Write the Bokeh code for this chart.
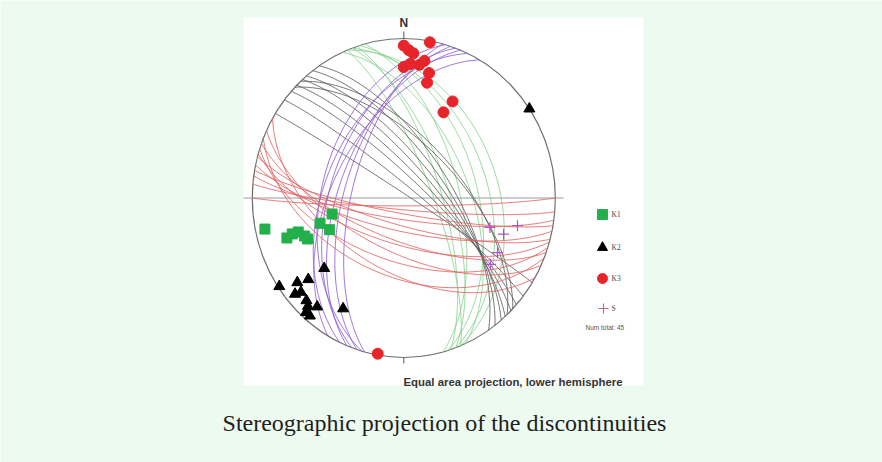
import numpy as np
from bokeh.plotting import figure
from bokeh.models import Range1d, Label
from bokeh.embed import file_html
from bokeh.resources import INLINE

# ---------------- data ----------------
# great circles: dip direction / dip (degrees)
red_dd = [180, 185, 190, 188, 195, 192, 200, 196, 205, 198, 210, 202]
red_dip = [86, 84, 82, 79, 76, 73, 68, 66, 62, 57, 52, 49]
black_dd = [32, 38, 42, 45, 48, 50, 53, 56, 44, 47]
black_dip = [88, 84, 80, 77, 74, 71, 68, 65, 62, 60]
green_dd = [68, 72, 70, 75, 66, 73, 70, 68]
green_dip = [75, 70, 66, 60, 55, 50, 44, 38]
purple_dd = [285, 288, 292, 290, 295, 300, 286]
purple_dip = [62, 58, 55, 50, 47, 52, 45]

# poles: trend / plunge (degrees)
k1_trend = [258, 252, 253, 253, 250, 248, 254, 248, 258]
k1_plunge = [7, 20, 24, 28, 31, 32, 42, 46, 50]
k2_trend = [236, 233, 231, 230, 229, 225, 223, 220, 222, 220, 230, 210, 56]
k2_plunge = [1, 13, 20, 7, 11, 10, 8, 12, 4, 4, 32, 21, 0]
k3_trend = [0, 2, 4, 10, 0, 3, 7, 9, 12, 12, 28, 26, 190]
k3_plunge = [5, 8, 10, 1, 19, 17, 17, 14, 21, 27, 32, 40, 1]
s_trend = [108, 109, 103, 119, 126]
s_plunge = [40, 31, 24, 30, 30]

legend_labels = ["K1", "K2", "K3", "S"]
num_total = 45

# ---------------- projection helpers ----------------
def project_lines(trend, plunge):
    t = np.radians(np.asarray(trend, float))
    pl = np.radians(np.asarray(plunge, float))
    vE = np.cos(pl) * np.sin(t)
    vN = np.cos(pl) * np.cos(t)
    vD = np.sin(pl)
    k = 1.0 / np.sqrt(1.0 + vD)
    return vE * k, vN * k

def great_circles(dds, dips):
    xs, ys = [], []
    th = np.linspace(0, np.pi, 181)
    for dd, dip in zip(dds, dips):
        a = np.radians(dd - 90.0)
        b = np.radians(dd)
        d = np.radians(dip)
        s = np.array([np.sin(a), np.cos(a), 0.0])
        dv = np.array([np.sin(b) * np.cos(d), np.cos(b) * np.cos(d), np.sin(d)])
        v = np.outer(np.cos(th), s) + np.outer(np.sin(th), dv)
        vD = np.clip(v[:, 2], 0, 1)
        k = 1.0 / np.sqrt(1.0 + vD)
        xs.append(list(v[:, 0] * k))
        ys.append(list(v[:, 1] * k))
    return xs, ys

# ---------------- page geometry ----------------
W, H = 882, 462
CX, CY, RX, RY = 403.3, 197.5, 151.5, 159.5

def dx(px):
    return (px - CX) / RX

def dy(py):
    return (CY - py) / RY

BG = "#edfaf0"
p = figure(width=W, height=H, output_backend="svg", toolbar_location=None,
           x_range=Range1d(dx(0), dx(W)), y_range=Range1d(dy(H), dy(0)),
           x_axis_type=None, y_axis_type=None, min_border=0,
           background_fill_color=BG, border_fill_color=BG, outline_line_color=None)
p.grid.visible = False

# white panel
p.quad(left=dx(243), right=dx(643), top=dy(17), bottom=dy(385),
       fill_color="white", line_color=None)

# net outline and ticks
p.ellipse(x=0, y=0, width=2, height=2, fill_color=None, line_color="#707070", line_width=1.2)
p.segment(x0=[dx(243)], y0=[0], x1=[dx(563)], y1=[0], line_color="#9a9a9a", line_width=1)
p.segment(x0=[0, 0], y0=[1.0, -1.0], x1=[0, 0], y1=[dy(31), dy(363)],
          line_color="#707070", line_width=1.2)

# great circles
for dds, dips, col in [(green_dd, green_dip, "#86d48f"),
                       (black_dd, black_dip, "#5a5a5a"),
                       (purple_dd, purple_dip, "#8d5bd0"),
                       (red_dd, red_dip, "#e06060")]:
    xs, ys = great_circles(dds, dips)
    p.multi_line(xs=xs, ys=ys, line_color=col, line_width=1, line_alpha=0.85)

# poles
x1, y1 = project_lines(k1_trend, k1_plunge)
p.scatter(x1, y1, marker="square", size=10, fill_color="#22b04b", line_color="#22b04b")
x2, y2 = project_lines(k2_trend, k2_plunge)
p.scatter(x2, y2, marker="triangle", size=11, fill_color="black", line_color="black")
x3, y3 = project_lines(k3_trend, k3_plunge)
p.scatter(x3, y3, marker="circle", size=11, fill_color="#e8242b", line_color="#e8242b")
xs_, ys_ = project_lines(s_trend, s_plunge)
p.scatter(xs_, ys_, marker="cross", size=11, line_color="#b44fd4", line_width=1.2)

# legend (drawn)
leg_y = [214, 247, 278, 308]
p.scatter([dx(602)], [dy(leg_y[0])], marker="square", size=10, fill_color="#22b04b", line_color="#22b04b")
p.scatter([dx(602)], [dy(leg_y[1])], marker="triangle", size=10, fill_color="black", line_color="black")
p.scatter([dx(602)], [dy(leg_y[2])], marker="circle", size=10, fill_color="#e8242b", line_color="#e8242b")
p.scatter([dx(603)], [dy(leg_y[3])], marker="cross", size=10, line_color="#d0607a", line_width=1)
for lab, ly in zip(legend_labels, leg_y):
    p.add_layout(Label(x=dx(611), y=dy(ly), text=lab, text_font="Liberation Serif",
                       text_font_size="7.5px", text_color="#444444", text_baseline="middle"))
p.add_layout(Label(x=dx(585), y=dy(327), text=f"Num total: {num_total}", text_font="Liberation Sans",
                   text_font_size="6.5px", text_color="#555555", text_baseline="middle"))

# texts
p.add_layout(Label(x=0, y=dy(29.5), text="N", text_font="Liberation Sans", text_font_style="bold",
                   text_font_size="12px", text_color="#333333", text_align="center",
                   text_baseline="bottom"))
p.add_layout(Label(x=dx(403), y=dy(381), text="Equal area projection, lower hemisphere",
                   text_font="Liberation Sans", text_font_style="bold", text_font_size="11.4px",
                   text_color="#333333", text_baseline="alphabetic"))
p.add_layout(Label(x=dx(444), y=dy(422), text="Stereographic projection of the discontinuities",
                   text_font="Liberation Serif", text_font_size="24px", text_color="#1e1e1e",
                   text_align="center", text_baseline="alphabetic"))

open("out.html", "w").write(file_html(p, INLINE, title="Stereonet"))
